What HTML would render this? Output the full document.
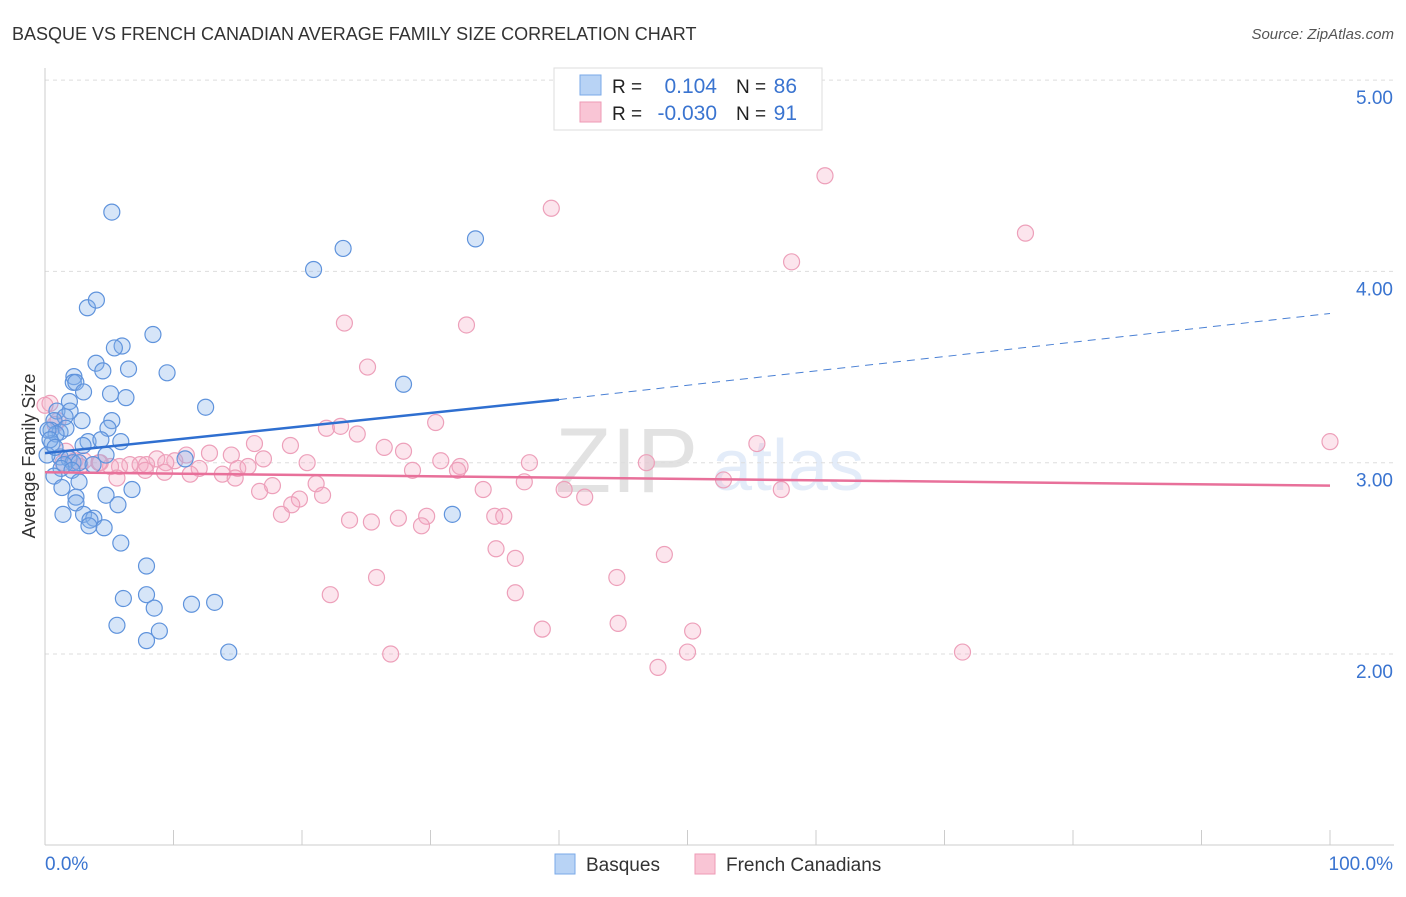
<!DOCTYPE html>
<html><head><meta charset="utf-8"><style>
body{margin:0;background:#fff;font-family:"Liberation Sans",sans-serif}
svg text{font-family:"Liberation Sans",sans-serif}
</style></head><body>
<svg id="c" width="1406" height="892" xmlns="http://www.w3.org/2000/svg">
<text x="12" y="40" font-size="18" fill="#333">BASQUE VS FRENCH CANADIAN AVERAGE FAMILY SIZE CORRELATION CHART</text>
<text x="1394" y="39" font-size="15" fill="#555" font-style="italic" text-anchor="end">Source: ZipAtlas.com</text>
<text x="35" y="456" font-size="18" fill="#333" text-anchor="middle" transform="rotate(-90 35 456)">Average Family Size</text>
<g opacity="0.18">
<text x="555" y="492" font-size="92" font-family="Liberation Serif" fill="#666">ZIP</text>
<text x="712" y="490" font-size="72" fill="#6a9be0">atlas</text>
</g>
<g id="grid"></g><g id="pts"></g><g id="lines"></g>
<g>
<rect x="554" y="68" width="268" height="62" fill="#fff" stroke="#ddd"/>
<rect x="580" y="75" width="21" height="20" fill="#b8d3f5" stroke="#7aaae8"/>
<rect x="580" y="102" width="21" height="20" fill="#f9c5d5" stroke="#ee9ab5"/>
<text x="612" y="93" font-size="19" fill="#222">R =</text><text x="717" y="93" font-size="21" fill="#3a74d0" text-anchor="end">0.104</text>
<text x="736" y="93" font-size="19" fill="#222">N =</text><text x="797" y="93" font-size="21" fill="#3a74d0" text-anchor="end">86</text>
<text x="612" y="120" font-size="19" fill="#222">R =</text><text x="717" y="120" font-size="21" fill="#3a74d0" text-anchor="end">-0.030</text>
<text x="736" y="120" font-size="19" fill="#222">N =</text><text x="797" y="120" font-size="21" fill="#3a74d0" text-anchor="end">91</text>
</g>
<g>
<rect x="555" y="854" width="20" height="20" fill="#b8d3f5" stroke="#7aaae8"/>
<text x="586" y="871" font-size="19" fill="#333">Basques</text>
<rect x="695" y="854" width="20" height="20" fill="#f9c5d5" stroke="#ee9ab5"/>
<text x="726" y="871" font-size="19" fill="#333">French Canadians</text>
</g>
</svg>
<script>
const yTicks=[2,3,4,5];
const yTickLabels=["2.00","3.00","4.00","5.00"];
const xTickLabels=["0.0%","100.0%"];
const basqueX=[5.2,3.3,4.0,20.9,23.2,33.5,8.4,6.0,5.4,3.97,4.5,6.5,9.5,2.25,2.2,2.4,3.0,5.1,6.3,27.9,1.9,12.5,0.93,1.95,1.56,2.88,5.2,0.7,4.9,0.47,1.17,1.63,0.86,5.9,3.35,4.35,0.54,2.96,4.75,1.17,10.9,1.87,2.18,1.5,2.65,3.74,1.25,2.1,0.7,2.65,1.32,6.77,2.41,4.75,2.41,5.68,1.4,3.0,3.8,3.5,3.42,4.6,31.7,5.9,7.9,6.1,7.9,11.4,13.2,8.5,5.6,8.9,7.9,14.3,0.23,0.39,0.16,0.78];
const basqueY=[4.31,3.81,3.85,4.01,4.12,4.17,3.67,3.61,3.6,3.52,3.48,3.49,3.47,3.45,3.42,3.42,3.37,3.36,3.34,3.41,3.32,3.29,3.27,3.27,3.24,3.22,3.22,3.22,3.18,3.17,3.16,3.18,3.15,3.11,3.11,3.12,3.1,3.09,3.04,3.03,3.02,3.02,3.0,2.99,3.0,2.99,2.97,2.96,2.93,2.9,2.87,2.86,2.82,2.83,2.79,2.78,2.73,2.73,2.71,2.7,2.67,2.66,2.73,2.58,2.46,2.29,2.31,2.26,2.27,2.24,2.15,2.12,2.07,2.01,3.17,3.12,3.04,3.08];
const frenchX=[60.7,39.4,76.3,58.1,23.3,32.8,25.1,0.39,1.01,100,30.4,55.4,21.9,23.0,24.3,16.3,19.1,26.4,27.9,11.0,12.8,8.7,14.5,10.1,9.4,17.0,20.4,30.8,37.7,46.8,32.3,32.1,6.6,5.8,7.4,7.9,5.1,4.3,2.33,1.4,3.04,12.0,15.0,15.8,9.3,11.3,13.8,14.8,28.6,37.3,21.1,17.7,16.7,34.1,40.4,42.0,52.8,57.3,19.8,21.6,19.2,18.4,23.7,25.4,27.5,29.7,29.3,35.0,35.7,35.1,36.6,48.2,25.8,44.5,22.2,36.6,44.6,38.7,50.4,50.0,26.9,47.7,71.4,5.6,4.2,0.78,1.63,0,2.72,7.8];
const frenchY=[4.5,4.33,4.2,4.05,3.73,3.72,3.5,3.31,3.22,3.11,3.21,3.1,3.18,3.19,3.15,3.1,3.09,3.08,3.06,3.04,3.05,3.02,3.04,3.01,3.0,3.02,3.0,3.01,3.0,3.0,2.98,2.96,2.99,2.98,2.99,2.99,2.98,3.0,3.01,3.0,3.01,2.97,2.97,2.98,2.95,2.94,2.94,2.92,2.96,2.9,2.89,2.88,2.85,2.86,2.86,2.82,2.91,2.86,2.81,2.83,2.78,2.73,2.7,2.69,2.71,2.72,2.67,2.72,2.72,2.55,2.5,2.52,2.4,2.4,2.31,2.32,2.16,2.13,2.12,2.01,2.0,1.93,2.01,2.92,3.0,3.2,3.06,3.3,2.98,2.96];
const blueTrend=[3.05,3.33,3.78];
const pinkTrend=[2.95,2.88];
const NS="http://www.w3.org/2000/svg";
const X=v=>45+v*12.85, Y=v=>654-(v-2)*191.3;
function mk(p,t,a){const e=document.createElementNS(NS,t);for(const k in a)e.setAttribute(k,a[k]);p.appendChild(e);return e;}
const g=document.getElementById('grid');
yTicks.forEach((t,i)=>{const l=mk(g,'line',{x1:45,x2:1394,y1:Y(t),y2:Y(t),stroke:'#ddd','stroke-dasharray':'4 4'});

const tx=mk(g,'text',{x:1393,y:Y(t)+24,'font-size':19,fill:'#3a74d0','text-anchor':'end'});tx.textContent=yTickLabels[i];
});
const ax=mk(g,'line',{x1:45,x2:1394,y1:845,y2:845,stroke:'#ccc'});
const ay=mk(g,'line',{x1:45,x2:45,y1:68,y2:845,stroke:'#ccc'});
for(let i=0;i<=10;i++){const t=mk(g,'line',{x1:X(i*10),x2:X(i*10),y1:830,y2:845,stroke:'#ccc'});}
[[xTickLabels[0],45,'start'],[xTickLabels[1],1393,'end']].forEach(([s,x,a])=>{const t=mk(g,'text',{x:x,y:870,'font-size':19,fill:'#3a74d0','text-anchor':a});t.textContent=s;});
const p=document.getElementById('pts');
frenchX.forEach((x,i)=>{const c=mk(p,'circle',{cx:X(x),cy:Y(frenchY[i]),r:8,fill:'rgba(245,170,195,0.3)',stroke:'#eda0ba','stroke-width':1.2});});
basqueX.forEach((x,i)=>{const c=mk(p,'circle',{cx:X(x),cy:Y(basqueY[i]),r:8,fill:'rgba(130,175,235,0.33)',stroke:'#5f93dc','stroke-width':1.2});});
const L=document.getElementById('lines');
let a=mk(L,'line',{x1:X(0),y1:Y(blueTrend[0]),x2:X(40),y2:Y(blueTrend[1]),stroke:'#2f6fd0','stroke-width':2.5});
a=mk(L,'line',{x1:X(40),y1:Y(blueTrend[1]),x2:X(100),y2:Y(blueTrend[2]),stroke:'#4a80d4','stroke-width':1,'stroke-dasharray':'8 6'});
a=mk(L,'line',{x1:X(0),y1:Y(pinkTrend[0]),x2:X(100),y2:Y(pinkTrend[1]),stroke:'#e8709a','stroke-width':2.5});
</script>
</body></html>
